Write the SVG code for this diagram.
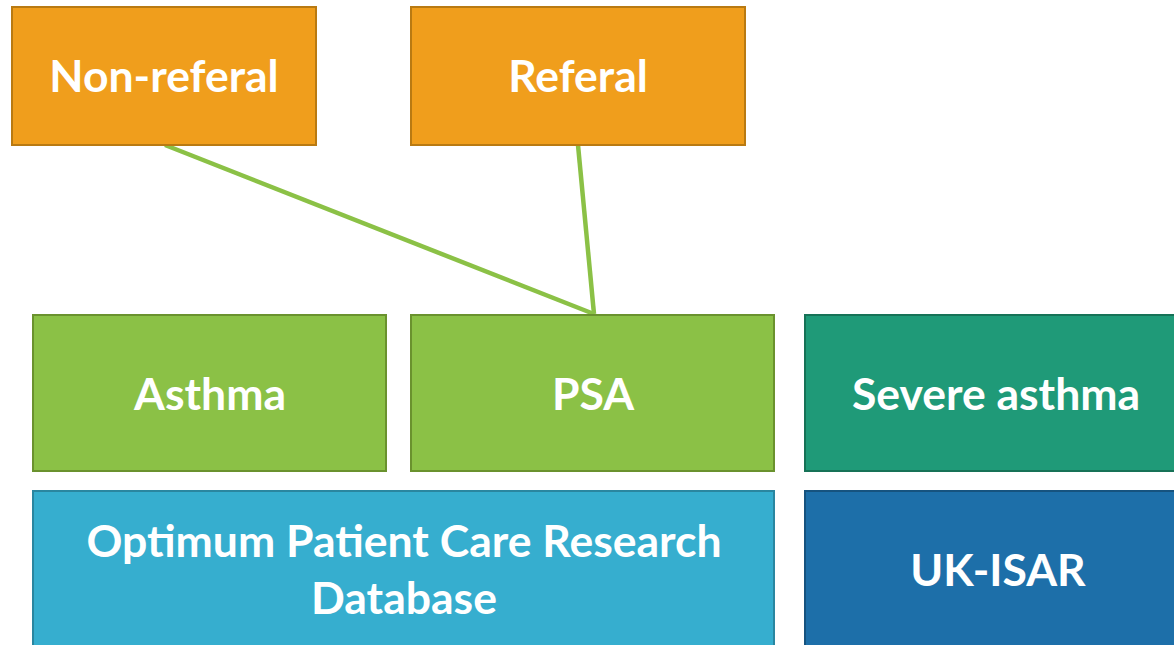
<svg xmlns="http://www.w3.org/2000/svg" width="1174" height="645" viewBox="0 0 1174 645">
<style>
.t{font-family:Lato,"Open Sans","Liberation Sans",sans-serif;font-weight:bold;font-size:44.5px;fill:#fff;text-anchor:middle}
.or{fill:#F09E1C;stroke:#B97A12;stroke-width:2}
.gr{fill:#8BC146;stroke:#6A922E;stroke-width:2}
.te{fill:#1F9A78;stroke:#167257;stroke-width:2}
.lb{fill:#36AECF;stroke:#2A86A0;stroke-width:2}
.db{fill:#1D6FA9;stroke:#16537F;stroke-width:2}
.c{stroke:#8BC146;stroke-width:4.5;fill:none}
</style>
<rect width="1174" height="645" fill="#fff"/>
<g id="connectors">
<line class="c" x1="165" y1="145" x2="594" y2="314"/>
<line class="c" x1="578" y1="145" x2="594" y2="314"/>
</g>
<g id="nonreferal"><rect class="or" x="12" y="7" width="304" height="138"/><text class="t" x="164" y="92">Non-referal</text></g>
<g id="referal"><rect class="or" x="411" y="7" width="334" height="138"/><text class="t" x="578" y="92">Referal</text></g>
<g id="asthma"><rect class="gr" x="33" y="315" width="353" height="156"/><text class="t" x="210" y="410">Asthma</text></g>
<g id="psa"><rect class="gr" x="411" y="315" width="363" height="156"/><text class="t" x="593" y="410">PSA</text></g>
<g id="severe"><rect class="te" x="805" y="315" width="380" height="156"/><text class="t" x="996" y="410">Severe asthma</text></g>
<g id="opcrd"><rect class="lb" x="33" y="491" width="741" height="170"/><text class="t" x="404" y="557">Optimum Patient Care Research</text><text class="t" x="404" y="614">Database</text></g>
<g id="ukisar"><rect class="db" x="805" y="491" width="380" height="170"/><text class="t" x="998" y="586">UK-ISAR</text></g>
</svg>
